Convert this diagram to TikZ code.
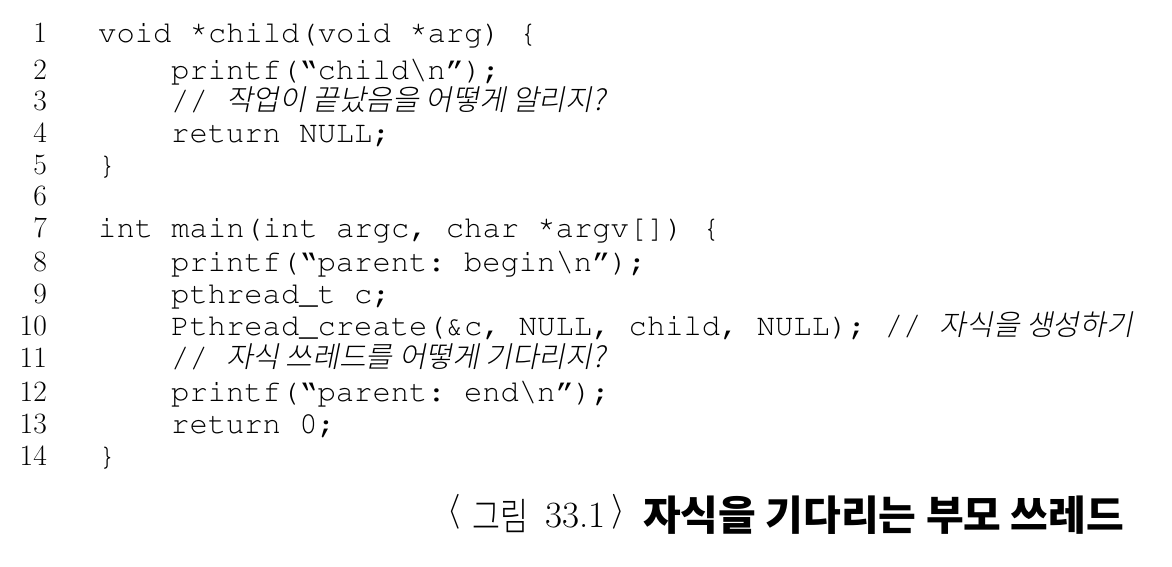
\documentclass[tikz,border=0pt]{standalone}
\usepackage[T1]{fontenc}
\usepackage{graphicx}
\usepackage{fontspec}
\frenchspacing
\newfontfamily\kr{Noto Sans CJK KR}
\newfontfamily\krl{Noto Sans CJK KR}[UprightFont={* Light}, FakeStretch=0.8]
\newfontfamily\krit{Noto Sans CJK KR}[UprightFont={* Light}, FakeSlant=0.2]
\newcommand{\courier}{\fontencoding{T1}\fontfamily{pcr}\selectfont\frenchspacing}
\tikzset{
  numstyle/.style={anchor=base east, inner sep=0pt, font=\fontsize{29.5}{32}\selectfont},
  codestyle/.style={anchor=base west, inner sep=0pt, font=\fontsize{30.5}{32}\courier},
  captionstyle/.style={anchor=base west, inner sep=0pt, font=\fontsize{37}{44}\selectfont}
}
\newcommand{\cmt}[1]{{\fontencoding{TU}\fontsize{29}{32}\krit #1}}
\newcommand{\ql}{\textquotedblleft}
\newcommand{\qr}{\textquotedblright}
\newcommand{\st}{\raisebox{5pt}{*}}
\begin{document}
\begin{tikzpicture}[x=1pt,y=-1pt]
\useasboundingbox (0,0) rectangle (1172,566);
\def\xa{98}\def\xb{171}
\node[numstyle] (n1) at (47,42) {1};
\node[numstyle] (n2) at (47,79) {2};
\node[numstyle] (n3) at (47,110) {3};
\node[numstyle] (n4) at (47,142) {4};
\node[numstyle] (n5) at (47,174) {5};
\node[numstyle] (n6) at (47,205) {6};
\node[numstyle] (n7) at (47,237) {7};
\node[numstyle] (n8) at (47,271) {8};
\node[numstyle] (n9) at (47,303) {9};
\node[numstyle] (n10) at (47,335) {10};
\node[numstyle] (n11) at (47,367) {11};
\node[numstyle] (n12) at (47,401) {12};
\node[numstyle] (n13) at (47,433) {13};
\node[numstyle] (n14) at (47,465) {14};
\node[codestyle] (c1) at (\xa,42) {void \st child(void \st arg) \{};
\node[codestyle] (c2) at (\xb,79) {printf(\ql child\textbackslash n\qr);};
\node[codestyle] (c3) at (\xb,110) {// \cmt{작업이 끝났음을 어떻게 알리지?}};
\node[codestyle] (c4) at (\xb,142) {return NULL;};
\node[codestyle] (c5) at (\xa,174) {\}};
\node[codestyle] (c7) at (\xa,237) {int main(int argc, char \st argv[]) \{};
\node[codestyle] (c8) at (\xb,271) {printf(\ql parent: begin\textbackslash n\qr);};
\node[codestyle] (c9) at (\xb,303) {pthread\_t c;};
\node[codestyle] (c10) at (\xb,335) {Pthread\_create(\&c, NULL, child, NULL); // \cmt{자식을 생성하기}};
\node[codestyle] (c11) at (\xb,367) {// \cmt{자식 쓰레드를 어떻게 기다리지?}};
\node[codestyle] (c12) at (\xb,401) {printf(\ql parent: end\textbackslash n\qr);};
\node[codestyle] (c13) at (\xb,433) {return 0;};
\node[codestyle] (c14) at (\xa,465) {\}};
\node[captionstyle] (capa) at (447,527) {\raisebox{7pt}{\scalebox{1.4}{$\langle$}}};
\node[captionstyle, font=\fontsize{38}{44}\krl] (capb) at (472,530) {그림};
\node[captionstyle] (capc) at (545,527) {33.1};
\node[captionstyle] (capd) at (611,527) {\raisebox{7pt}{\scalebox{1.4}{$\rangle$}}};
\node[captionstyle, font=\fontsize{41}{44}\kr\bfseries] (cape) at (643,530) {자식을 기다리는 부모 쓰레드};
\end{tikzpicture}
\end{document}
